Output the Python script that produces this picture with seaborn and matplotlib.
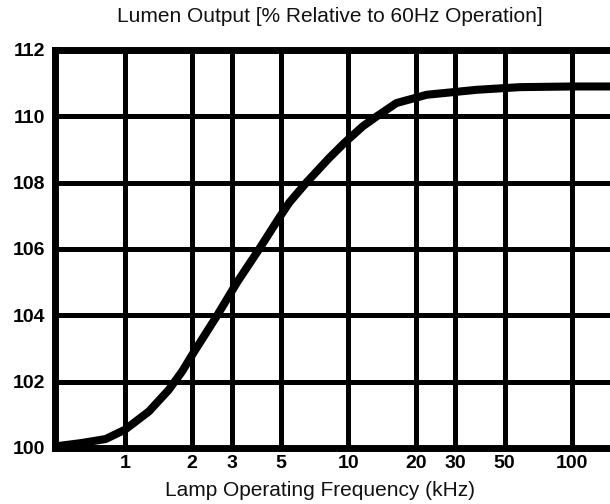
import matplotlib
matplotlib.use("Agg")
import matplotlib.pyplot as plt
import seaborn as sns
import pandas as pd
from matplotlib.ticker import FixedLocator, NullLocator, FixedFormatter

sns.set_theme(style="white")
plt.rcParams['font.family'] = ['Liberation Sans', 'DejaVu Sans']

# Data (frequency in kHz, lumen output in %)
freq_khz = [0.49, 0.64, 0.82, 1.0, 1.28, 1.57, 1.80, 2.04, 2.59, 3.18, 3.99, 4.91, 5.44,
            6.48, 8.22, 9.6, 11.6, 13.4, 16.4, 22.4, 37.5, 58.5, 100.0, 150.0]
lumen_pct = [100.05, 100.15, 100.27, 100.55, 101.1, 101.75, 102.3, 102.9, 104.0, 105.0, 106.0, 106.95, 107.4,
             108.0, 108.75, 109.2, 109.7, 110.0, 110.4, 110.65, 110.8, 110.88, 110.9, 110.9]

x_ticks = [1, 2, 3, 5, 10, 20, 30, 50, 100]
x_tick_labels = ["1", "2", "3", "5", "10", "20", "30", "50", "100"]
y_ticks = [100, 102, 104, 106, 108, 110, 112]
y_tick_labels = ["100", "102", "104", "106", "108", "110", "112"]

title = "Lumen Output [% Relative to 60Hz Operation]"
xlabel = "Lamp Operating Frequency (kHz)"

df = pd.DataFrame({"freq": freq_khz, "lumen": lumen_pct})

fig = plt.figure(figsize=(6.10, 5.04), dpi=100)
ax = fig.add_axes([55/610, 1 - 448/504, 1 - 55/610, (448 - 50)/504])

ax.set_xscale("log")
sns.lineplot(data=df, x="freq", y="lumen", ax=ax, color="black", linewidth=5.8,
             solid_capstyle="round", solid_joinstyle="round", zorder=5)

ax.set_xlim(0.487, 148)
ax.set_ylim(100, 112)

ax.xaxis.set_major_locator(FixedLocator(x_ticks))
ax.xaxis.set_major_formatter(FixedFormatter(x_tick_labels))
ax.xaxis.set_minor_locator(NullLocator())
ax.set_yticks(y_ticks)
ax.set_yticklabels(y_tick_labels)

ax.grid(True, which="major", color="black", linewidth=3.6)
ax.set_axisbelow(True)

for side in ["left", "top", "bottom"]:
    ax.spines[side].set_visible(True)
    ax.spines[side].set_color("black")
    ax.spines[side].set_linewidth(5.0)
ax.spines["right"].set_visible(False)

ax.tick_params(axis="both", length=0, labelsize=14, labelcolor="black")
ax.tick_params(axis="y", pad=7)
ax.tick_params(axis="x", pad=5)
for lbl in ax.get_xticklabels() + ax.get_yticklabels():
    lbl.set_fontweight("bold")

ax.set_xlabel("")
ax.set_ylabel("")
fig.text(320/610, 1 - 490/504, xlabel, ha="center", va="center", fontsize=15, color="#111111")
fig.text(330/610, 1 - 17/504, title, ha="center", va="center", fontsize=15, color="#111111")

fig.savefig("out.png", dpi=100)
